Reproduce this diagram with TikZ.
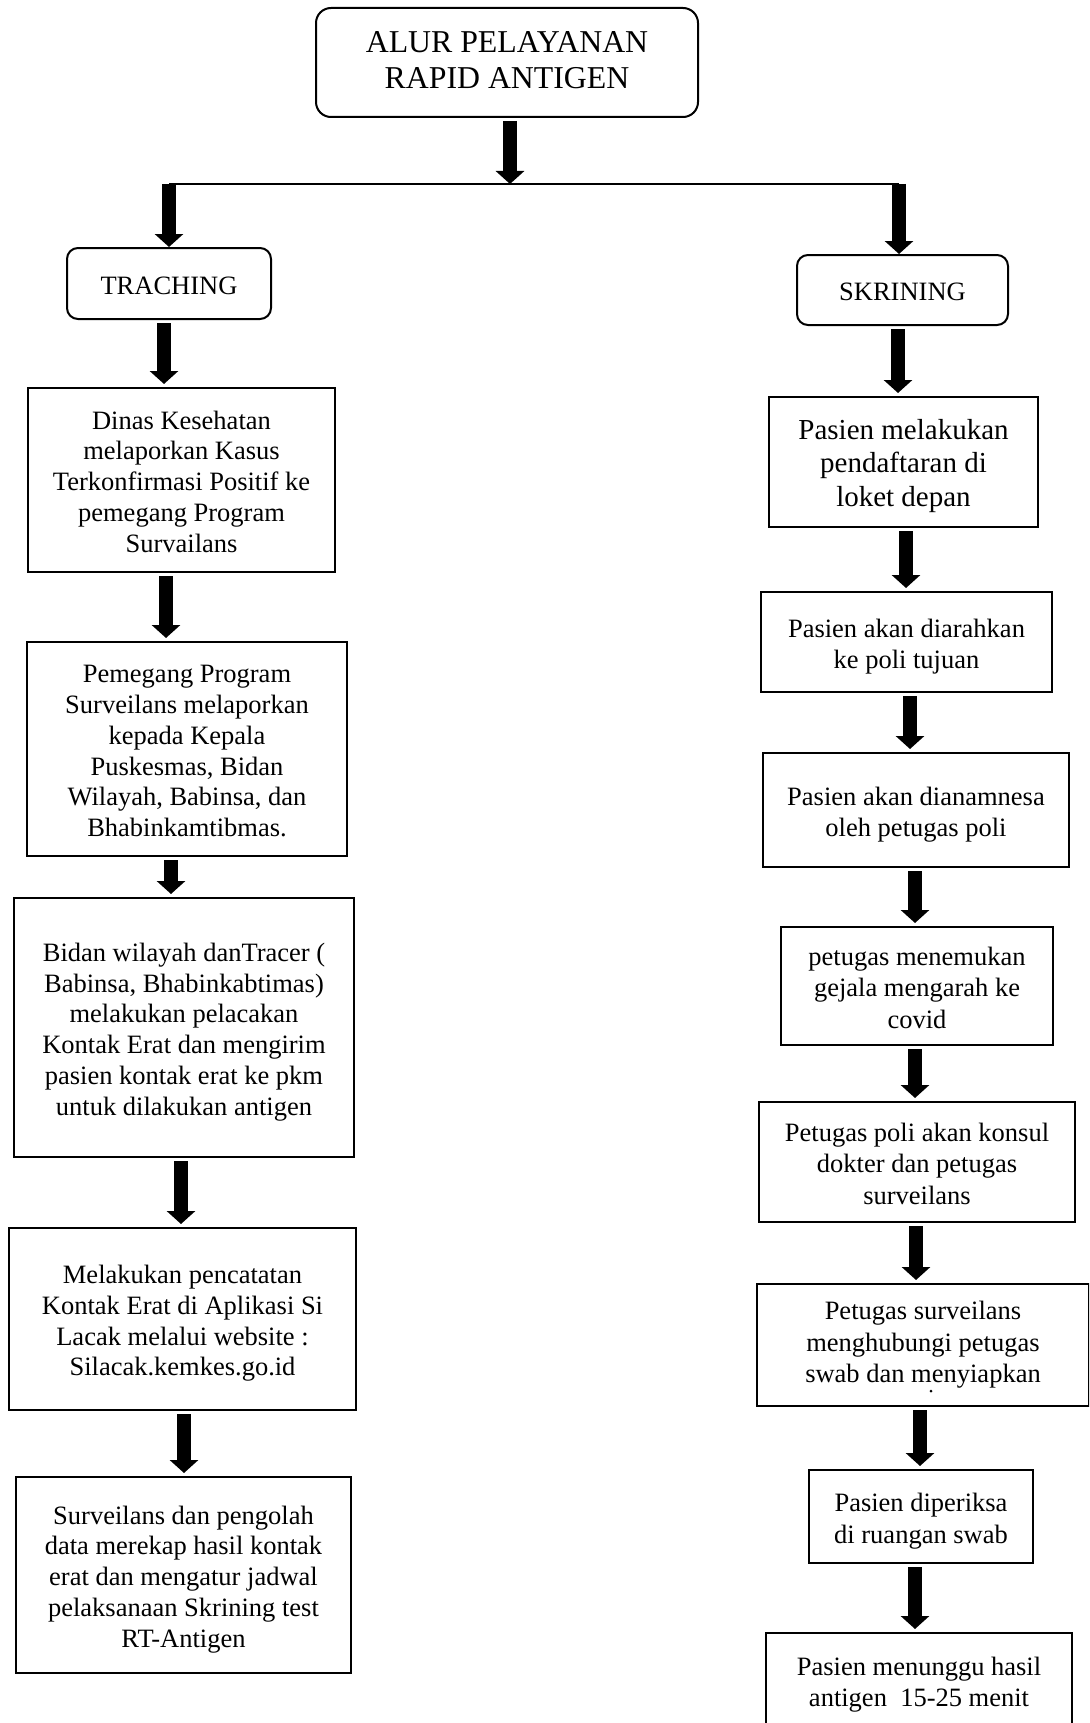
\documentclass[tikz,border=0pt]{standalone}
\usepackage{fontspec}
\setmainfont{Liberation Serif}
\usetikzlibrary{arrows.meta}
\newcommand\flowfont{\fontsize{26.5}{30.8}\selectfont}
\newcommand\flowfontR{\fontsize{26.5}{31.5}\selectfont}
\newcommand\bigfont{\fontsize{29}{33.5}\selectfont}
\newcommand\headfont{\fontsize{31.8}{36.3}\selectfont}
% struts that fix where the lines sit inside a box
\newcommand\strutTop{\rule{0pt}{28.5pt}}
\newcommand\strutBot{\rule[-7pt]{0pt}{7pt}}
\newcommand\headTop{\rule{0pt}{26pt}}
\newcommand\headBot{\rule[-10.5pt]{0pt}{10.5pt}}
\begin{document}
\begin{tikzpicture}[x=1pt,y=-1pt,
  box/.style={draw, line width=2pt, inner sep=0pt, align=center, font=\flowfont},
  rbox/.style={box, font=\flowfontR},
  roundbox/.style={box, rounded corners=11pt},
  flow/.style={line width=14pt, -{Triangle[width=28pt,length=13pt]},
    shorten <=3pt, shorten >=3pt},
  thinline/.style={line width=2pt}]
\useasboundingbox (0,0) rectangle (1089,1723);
\fill[white] (0,0) rectangle (1089,1723);
\clip (0,0) rectangle (1089,1723);

% heading
\node[roundbox, rounded corners=15pt, font=\headfont, minimum width=382pt, minimum height=109pt]
  (title) at (507,62.5) {\headTop ALUR PELAYANAN\\RAPID ANTIGEN\headBot};

% branch line
\coordinate (split) at (510,184);
\coordinate (brL) at (169,184);
\coordinate (brR) at (899,184);
\draw[thinline] (brL) -- (brR);

% two branch heads
\node[roundbox, minimum width=204pt, minimum height=71pt] (trach) at (169,283.5)
  {\strutTop TRACHING\strutBot};
\node[roundbox, minimum width=211pt, minimum height=70pt] (skr) at (902.5,290)
  {\strutTop SKRINING\strutBot};

% left column
\node[box, minimum width=307pt, minimum height=184pt] (dinas) at (181.5,480)
  {\strutTop Dinas Kesehatan\\melaporkan Kasus\\Terkonfirmasi Positif ke\\pemegang Program\\Survailans\strutBot};
\node[box, minimum width=320pt, minimum height=214pt] (pem) at (187,749)
  {\strutTop Pemegang Program\\Surveilans melaporkan\\kepada Kepala\\Puskesmas, Bidan\\Wilayah, Babinsa, dan\\Bhabinkamtibmas.\strutBot};
\node[box, minimum width=340pt, minimum height=259pt] (bidan) at (184,1027.5)
  {\strutTop Bidan wilayah danTracer (\\Babinsa, Bhabinkabtimas)\\melakukan pelacakan\\Kontak Erat dan mengirim\\pasien kontak erat ke pkm\\untuk dilakukan antigen\strutBot};
\node[box, minimum width=347pt, minimum height=182pt] (catat) at (182.5,1319)
  {\strutTop Melakukan pencatatan\\Kontak Erat di Aplikasi Si\\Lacak melalui website :\\Silacak.kemkes.go.id\strutBot};
\node[box, minimum width=335pt, minimum height=196pt] (rekap) at (183.5,1575)
  {\strutTop Surveilans dan pengolah\\data merekap hasil kontak\\erat dan mengatur jadwal\\pelaksanaan Skrining test\\RT-Antigen\strutBot};

% right column
\node[rbox, font=\bigfont, minimum width=269pt, minimum height=130pt] (daftar) at (903.5,462)
  {\strutTop Pasien melakukan\\pendaftaran di\\loket depan\strutBot};
\node[rbox, minimum width=291pt, minimum height=100pt] (arah) at (906.5,642)
  {\strutTop Pasien akan diarahkan\\ke poli tujuan\strutBot};
\node[rbox, minimum width=306pt, minimum height=114pt] (anam) at (916,810)
  {\strutTop Pasien akan dianamnesa\\oleh petugas poli\strutBot};
\node[rbox, minimum width=272pt, minimum height=118pt] (gejala) at (917,986)
  {\strutTop petugas menemukan\\gejala mengarah ke\\covid\strutBot};
\node[rbox, minimum width=316pt, minimum height=120pt] (konsul) at (917,1162)
  {\strutTop Petugas poli akan konsul\\dokter dan petugas\\surveilans\strutBot};
\node[rbox, minimum width=332pt, minimum height=122pt] (hubung) at (923,1345)
  {Petugas surveilans\\menghubungi petugas\\swab dan menyiapkan};
% the small dot left below the last line of this box
\fill (931,1391) circle (1.5pt);
\node[rbox, minimum width=224pt, minimum height=93pt] (periksa) at (921,1516.5)
  {\strutTop Pasien diperiksa\\di ruangan swab\strutBot};
\node[rbox, minimum width=306pt, minimum height=94pt] (tunggu) at (919,1680)
  {\strutTop Pasien menunggu hasil\\antigen~ 15-25 menit\strutBot};

% arrow columns
\coordinate (xt) at (510,0);
\coordinate (xa) at (164,0);
\coordinate (xb) at (166,0);
\coordinate (xc) at (171,0);
\coordinate (xd) at (181,0);
\coordinate (xe) at (184,0);
\coordinate (xf) at (898,0);
\coordinate (xg) at (906,0);
\coordinate (xh) at (910,0);
\coordinate (xi) at (915,0);
\coordinate (xj) at (916,0);
\coordinate (xk) at (920,0);

% arrows
\draw[flow, shorten >=0pt] (title.south -| xt) -- (split);
\draw[flow, shorten <=0pt, shorten >=0pt] (brL) -- (brL |- trach.north);
\draw[flow, shorten <=0pt, shorten >=0pt] (brR) -- (brR |- skr.north);

\draw[flow] (trach.south -| xa) -- (dinas.north -| xa);
\draw[flow] (dinas.south -| xb) -- (pem.north -| xb);
\draw[flow] (pem.south -| xc) -- (bidan.north -| xc);
\draw[flow] (bidan.south -| xd) -- (catat.north -| xd);
\draw[flow] (catat.south -| xe) -- (rekap.north -| xe);

\draw[flow] (skr.south -| xf) -- (daftar.north -| xf);
\draw[flow] (daftar.south -| xg) -- (arah.north -| xg);
\draw[flow] (arah.south -| xh) -- (anam.north -| xh);
\draw[flow] (anam.south -| xi) -- (gejala.north -| xi);
\draw[flow] (gejala.south -| xi) -- (konsul.north -| xi);
\draw[flow] (konsul.south -| xj) -- (hubung.north -| xj);
\draw[flow] (hubung.south -| xk) -- (periksa.north -| xk);
\draw[flow] (periksa.south -| xi) -- (tunggu.north -| xi);
\end{tikzpicture}
\end{document}
